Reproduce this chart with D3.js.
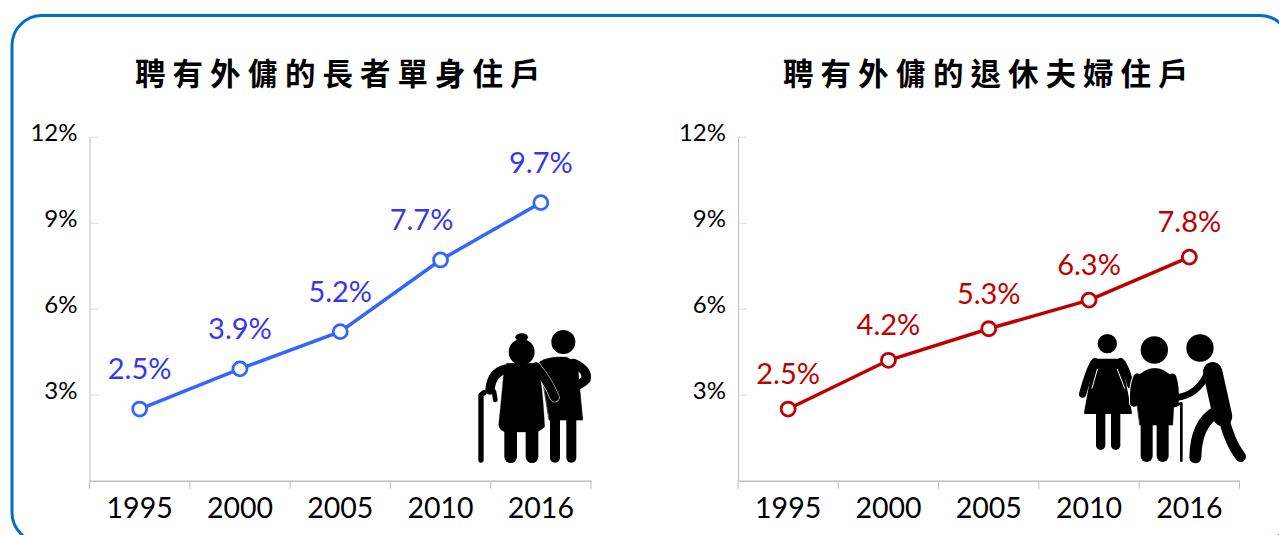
<!DOCTYPE html>
<html>
<head>
<meta charset="utf-8">
<script src="https://cdn.jsdelivr.net/npm/d3@7"></script>
<style>
html, body { margin: 0; padding: 0; background: #fff; overflow: hidden; }
text { font-family: Lato, "Open Sans", sans-serif; }
</style>
</head>
<body>
<svg width="1279" height="535"></svg>
<script>
const years = ["1995", "2000", "2005", "2010", "2016"];
const singleValues = [2.5, 3.9, 5.2, 7.7, 9.7];
const coupleValues = [2.5, 4.2, 5.3, 6.3, 7.8];
const yTicks = [3, 6, 9, 12];
const singleTitle = "聘有外傭的長者單身住戶";
const coupleTitle = "聘有外傭的退休夫婦住戶";

const svg = d3.select("svg");

// rounded frame runs off the right and bottom of the picture
svg.append("rect")
    .attr("x", 12).attr("y", 15.5)
    .attr("width", 1278).attr("height", 527)
    .attr("rx", 30).attr("ry", 30)
    .attr("fill", "none")
    .attr("stroke", "#0070c0")
    .attr("stroke-width", 3);

const axisTop = 136.7, axisBottom = 480.7, plotWidth = 501.5;

function drawPanel(left, title, titleX, values, color, labelColor, labelRise, labelShift) {
    const g = svg.append("g").attr("transform", `translate(${left}, 0)`);

    const x = d3.scaleBand().domain(years).range([0, plotWidth]);
    const y = d3.scaleLinear().domain([0, 12]).range([axisBottom, axisTop]);

    // y axis, ticks point into the plot
    const yAxis = g.append("g")
        .call(d3.axisLeft(y).tickValues(yTicks).tickSize(-9).tickSizeOuter(0).tickPadding(12).tickFormat(d => d + "%"));
    yAxis.select(".domain").attr("stroke", "#bfbfbf").attr("stroke-width", 1);
    yAxis.selectAll("line").attr("stroke", "#d9d9d9").attr("stroke-width", 1);
    yAxis.selectAll("text")
        .attr("font-family", "Lato, sans-serif")
        .attr("font-size", "24px")
        .attr("fill", "#000")
        .attr("dy", "0.16em");

    // x axis, ticks sit on the band edges
    const xAxis = g.append("g")
        .attr("transform", `translate(0, ${axisBottom})`)
        .call(d3.axisBottom(x).tickSize(0).tickPadding(17));
    xAxis.select(".domain").attr("stroke", "#bfbfbf").attr("stroke-width", 1.5);
    xAxis.selectAll("text")
        .attr("font-family", "Lato, sans-serif")
        .attr("font-size", "28.5px")
        .attr("fill", "#000");
    xAxis.selectAll(".edge")
        .data(d3.range(years.length + 1))
        .enter().append("line")
        .attr("class", "edge")
        .attr("x1", d => d * x.step()).attr("x2", d => d * x.step())
        .attr("y1", 0).attr("y2", 8)
        .attr("stroke", "#bfbfbf");

    const points = years.map((yr, i) => ({ year: yr, value: values[i] }));
    const cx = d => x(d.year) + x.bandwidth() / 2;

    const line = d3.line().x(cx).y(d => y(d.value));
    g.append("path")
        .attr("d", line(points))
        .attr("fill", "none")
        .attr("stroke", color)
        .attr("stroke-width", 3.5);

    g.selectAll(".dot").data(points).enter().append("circle")
        .attr("class", "dot")
        .attr("cx", cx)
        .attr("cy", d => y(d.value))
        .attr("r", 7)
        .attr("fill", "#fff")
        .attr("stroke", color)
        .attr("stroke-width", 2.8);

    g.selectAll(".lab").data(points).enter().append("text")
        .attr("class", "lab")
        .attr("x", (d, i) => cx(d) + (labelShift[i] || 0))
        .attr("y", d => y(d.value) - labelRise)
        .attr("dy", "0.35em")
        .attr("text-anchor", "middle")
        .attr("font-size", "29px")
        .attr("fill", labelColor)
        .text(d => d.value.toFixed(1) + "%");

    svg.append("text")
        .attr("x", titleX)
        .attr("y", 84.5)
        .attr("font-size", "30.5px")
        .attr("font-weight", 700)
        .attr("letter-spacing", "7px")
        .style("font-family", '"Noto Sans CJK TC"')
        .attr("fill", "#000")
        .text(title);
}

drawPanel(89.5, singleTitle, 135, singleValues, "#3366ff", "#3636f0", 40, {3: -19});
drawPanel(738, coupleTitle, 783, coupleValues, "#c00000", "#c00000", 35, {});

// pictograms, drawn in the 3x units of a crop around each one
function person(parent, shapes) {
    shapes.forEach(s => {
        if (s.r) {
            parent.append("circle").attr("cx", s.c[0]).attr("cy", s.c[1]).attr("r", s.r).attr("fill", "#000");
        } else {
            parent.append("path").attr("d", s.d)
                .attr("fill", s.fill || "none")
                .attr("stroke", s.stroke || "#000")
                .attr("stroke-width", s.w || 0)
                .attr("stroke-linecap", "round")
                .attr("stroke-linejoin", "round");
        }
    });
}

const oldCouple = svg.append("g").attr("transform", "translate(460, 320) scale(0.3333)");
person(oldCouple, [
    { c: [310, 66], r: 36 },
    // man torso and legs
    { d: "M240 125 Q270 108 320 112 L352 130 L368 300 L268 300 Z", fill: "#000", w: 2 },
    { d: "M285 300 L285 413", w: 30 },
    { d: "M334 300 L334 413", w: 30 },
    // man arm round her back
    { d: "M340 130 Q385 150 378 178 Q360 200 290 215", w: 28 },
    // woman
    { d: "M166 52 a19 12 0 1 1 38 0 a19 12 0 1 1 -38 0", fill: "#000", w: 0 },
    { c: [185, 96], r: 39 },
    { d: "M228 140 Q262 180 284 232", stroke: "#fff", w: 30 },
    { d: "M140 130 L228 130 Q245 150 254 320 Q240 336 220 336 L135 336 Q118 330 116 315 Q125 230 130 170 Z", fill: "#000", w: 1 },
    { d: "M148 146 Q95 150 90 210", w: 28 },
    { d: "M102 215 L106 240", w: 14 },
    { d: "M228 140 Q262 180 284 232", w: 27 },
    { d: "M152 335 L152 410", w: 38 },
    { d: "M216 335 L216 410", w: 38 },
    // cane
    { d: "M63 420 L63 225 L72 218", w: 16 }
]);

const retired = svg.append("g").attr("transform", "translate(1060, 320) scale(0.3333)");
person(retired, [
    // woman
    { c: [142, 71], r: 29 },
    { d: "M105 120 L180 120 L212 278 L76 278 Z", fill: "#000", w: 8 },
    { d: "M105 125 Q92 135 68 222", w: 22 },
    { d: "M182 125 Q195 135 212 195", w: 22 },
    { d: "M122 285 L122 376", w: 28 },
    { d: "M167 285 L167 376", w: 28 },
    { d: "M112 148 L96 205", stroke: "#fff", w: 3 },
    { d: "M172 148 L194 205", stroke: "#fff", w: 3 },
    // right man behind
    { c: [420, 84], r: 41 },
    { d: "M458 155 L488 290", w: 58 },
    { d: "M470 275 Q408 310 406 412", w: 36 },
    { d: "M490 290 Q510 370 542 410", w: 32 },
    { d: "M440 165 Q410 225 352 232", w: 20 },
    // middle man
    { c: [283, 90], r: 41 },
    { d: "M232 172 Q220 200 222 248", stroke: "#fff", w: 30 },
    { d: "M222 180 Q285 110 345 180 L338 315 L240 315 Z", fill: "#000", w: 2 },
    { d: "M232 172 Q220 200 222 248", w: 24 },
    { d: "M338 172 Q348 200 345 250", w: 22 },
    { d: "M260 315 L260 408", w: 36 },
    { d: "M308 315 L308 408", w: 36 },
    // cane
    { d: "M364 422 L364 250 L332 262", w: 8 }
]);
</script>
</body>
</html>
